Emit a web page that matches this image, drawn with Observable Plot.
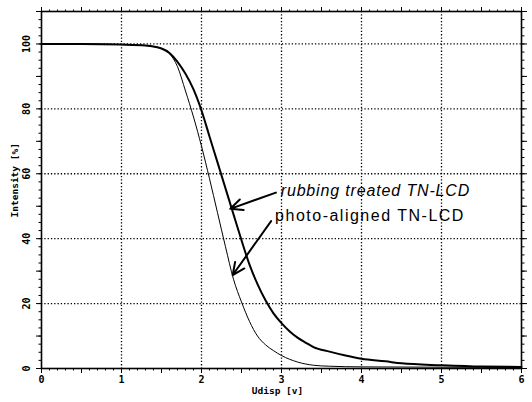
<!DOCTYPE html>
<html>
<head>
<meta charset="utf-8">
<script src="https://cdn.jsdelivr.net/npm/d3@7"></script>
<script src="https://cdn.jsdelivr.net/npm/@observablehq/plot@0.6"></script>
<style>
  html, body { margin: 0; padding: 0; background: #fff; }
  #chart svg { display: block; }
</style>
</head>
<body>
<div id="chart"></div>
<script>
// Voltage (V) sampling points and intensities (%)
const photoX = [0, 0.5, 1.0, 1.3, 1.5, 1.6, 1.7, 1.8, 1.9, 2.0, 2.1, 2.2, 2.3, 2.4, 2.5, 2.6, 2.7, 2.8, 2.9, 3.0, 3.2, 3.4, 3.6, 4.0, 5.0, 6.0];
const photoY = [100, 100, 99.8, 99.5, 98.6, 97, 93, 85.5, 77.5, 68.5, 58.5, 48, 37.5, 27.5, 20.5, 14.5, 10, 7.3, 5.5, 4, 2, 1, 0.7, 0.5, 0.4, 0.3];
const rubX = [0, 0.5, 1.0, 1.3, 1.5, 1.6, 1.7, 1.8, 1.9, 2.0, 2.1, 2.2, 2.3, 2.4, 2.5, 2.6, 2.7, 2.8, 2.9, 3.0, 3.1, 3.2, 3.3, 3.4, 3.6, 3.8, 4.0, 4.3, 4.5, 5.0, 5.5, 6.0];
const rubY = [100, 100, 99.8, 99.5, 98.6, 97.2, 94.5, 90.8, 86, 79.5, 71.5, 63.5, 55.5, 47.5, 39.5, 32, 26, 21, 17, 14, 11.5, 9.5, 8, 6.6, 5.2, 4, 3, 2.2, 1.6, 1.0, 0.6, 0.5];

const xTicks = [0, 1, 2, 3, 4, 5, 6];
const xGrid = [1, 2, 3, 4, 5];
const yTicks = [0, 20, 40, 60, 80, 100];
const yGrid = [20, 40, 60, 80, 100];
const seriesNames = ["rubbing treated TN-LCD", "photo-aligned TN-LCD"];
const xLabel = "Udisp [v]";
const yLabel = "Intensity [%]";

const xMinor = d3.range(0, 60.5, 1).map(d => d / 10);
const xMid = d3.range(0, 12.5, 1).map(d => d / 2);
const yMinor = d3.range(0, 44.5, 1).map(d => d * 2.5);
const yMid = d3.range(0, 11.5, 1).map(d => d * 10);

const photo = photoX.map((x, i) => ({x, y: photoY[i]}));
const rub = rubX.map((x, i) => ({x, y: rubY[i]}));

// annotation anchors (data units)
const labels = [
  {name: seriesNames[0], x: 2.99, y: 54.8, italic: true, spacing: 0.85},
  {name: seriesNames[1], x: 2.92, y: 47.0, italic: false, spacing: 1.5}
];
const arrows = [
  {x1: 2.93, y1: 54.2, x2: 2.36, y2: 49.2},
  {x1: 2.87, y1: 45.4, x2: 2.39, y2: 28.8}
];

const tickFont = "DejaVu Sans Mono, monospace";
const blank = () => "";

const chart = Plot.plot({
  width: 532,
  height: 402,
  marginLeft: 41,
  marginRight: 11,
  marginTop: 11,
  marginBottom: 34,
  style: {fontFamily: tickFont, fontSize: "10px", color: "#000", background: "#fff"},
  x: {domain: [0, 6]},
  y: {domain: [0, 110]},
  marks: [
    Plot.gridX(xGrid, {stroke: "#000", strokeOpacity: 1, strokeWidth: 1.3, strokeDasharray: "1.3,2"}),
    Plot.gridY(yGrid, {stroke: "#000", strokeOpacity: 1, strokeWidth: 1.3, strokeDasharray: "1.3,2"}),
    // minor ticks, all four sides
    Plot.axisX({anchor: "bottom", ticks: xMinor, tickSize: 2.5, tickFormat: blank, label: null}),
    Plot.axisX({anchor: "top", ticks: xMinor, tickSize: 2.5, tickFormat: blank, label: null}),
    Plot.axisX({anchor: "bottom", ticks: xMid, tickSize: 5, tickFormat: blank, label: null}),
    Plot.axisX({anchor: "top", ticks: xMid, tickSize: 5, tickFormat: blank, label: null}),
    Plot.axisY({anchor: "left", ticks: yMinor, tickSize: 2.5, tickFormat: blank, label: null}),
    Plot.axisY({anchor: "right", ticks: yMinor, tickSize: 2.5, tickFormat: blank, label: null}),
    Plot.axisY({anchor: "left", ticks: yMid, tickSize: 5, tickFormat: blank, label: null}),
    Plot.axisY({anchor: "right", ticks: yMid, tickSize: 5, tickFormat: blank, label: null}),
    // major tick labels
    Plot.axisX({anchor: "bottom", ticks: xTicks, tickSize: 5, tickPadding: 2, tickFormat: d => String(d), label: null,
      fontWeight: "bold", fontSize: 10}),
    Plot.text(yTicks, {x: 0, y: d => d, text: d => String(d), rotate: -90, dx: -15,
      fontWeight: "bold", fontSize: 10, textAnchor: "middle", lineAnchor: "middle"}),
    Plot.frame({stroke: "#000", strokeWidth: 1.6}),
    // curves
    Plot.line(photo, {x: "x", y: "y", stroke: "#000", strokeWidth: 1, curve: "monotone-x"}),
    Plot.line(rub, {x: "x", y: "y", stroke: "#000", strokeWidth: 2, curve: "monotone-x"}),
    // annotations
    Plot.arrow(arrows, {x1: "x1", y1: "y1", x2: "x2", y2: "y2", stroke: "#000", strokeWidth: 2, headLength: 10, headAngle: 50}),
    Plot.text(labels.filter(d => d.italic), {x: "x", y: "y", text: "name", textAnchor: "start",
      fontFamily: "Liberation Sans, Arial, sans-serif", fontSize: 16, fontStyle: "italic", fill: "#000"}),
    Plot.text(labels.filter(d => !d.italic), {x: "x", y: "y", text: "name", textAnchor: "start",
      fontFamily: "Liberation Sans, Arial, sans-serif", fontSize: 16, fill: "#000"}),
    // axis titles
    Plot.text([xLabel], {x: 2.95, frameAnchor: "bottom", dy: 25, text: d => d, fontWeight: "bold", fontSize: 9.5}),
    Plot.text([yLabel], {y: 58, frameAnchor: "left", dx: -27, rotate: -90, text: d => d, fontWeight: "bold", fontSize: 9.5, textAnchor: "middle", lineAnchor: "middle"})
  ]
});

// letter spacing for the annotation texts
d3.select(chart).selectAll("text").each(function() {
  const t = this.textContent;
  const lab = labels.find(d => d.name === t);
  if (lab) this.setAttribute("letter-spacing", lab.spacing);
});

document.getElementById("chart").appendChild(chart);
</script>
</body>
</html>
